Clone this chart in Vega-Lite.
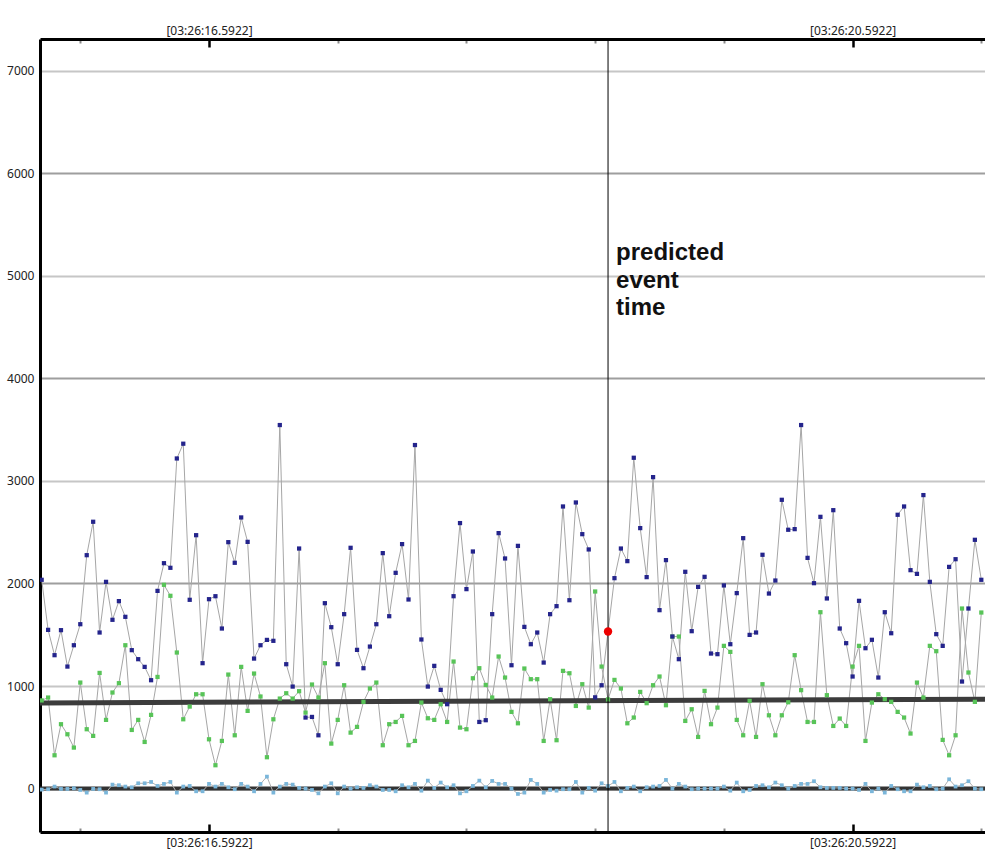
{
  "$schema": "https://vega.github.io/schema/vega-lite/v6.json",
  "width": 945,
  "height": 793,
  "autosize": "none",
  "padding": {"left": 40, "top": 39, "right": 0, "bottom": 32},
  "background": "white",
  "config": {"view": {"stroke": null}},
  "datasets": {
    "series": [
      {"t":15.5522,"hi":2036,"lo":860,"z":-10},
      {"t":15.5922,"hi":1548,"lo":888,"z":-6},
      {"t":15.6322,"hi":1301,"lo":325,"z":20},
      {"t":15.6722,"hi":1545,"lo":628,"z":-3},
      {"t":15.7122,"hi":1190,"lo":530,"z":-3},
      {"t":15.7522,"hi":1398,"lo":400,"z":3},
      {"t":15.7922,"hi":1603,"lo":1034,"z":-13},
      {"t":15.8322,"hi":2276,"lo":579,"z":-39},
      {"t":15.8722,"hi":2602,"lo":514,"z":-3},
      {"t":15.9122,"hi":1522,"lo":1128,"z":-6},
      {"t":15.9522,"hi":2016,"lo":670,"z":-39},
      {"t":15.9922,"hi":1646,"lo":937,"z":39},
      {"t":16.0322,"hi":1828,"lo":1028,"z":33},
      {"t":16.0722,"hi":1675,"lo":1398,"z":20},
      {"t":16.1122,"hi":1350,"lo":572,"z":13},
      {"t":16.1522,"hi":1262,"lo":670,"z":52},
      {"t":16.1922,"hi":1187,"lo":455,"z":52},
      {"t":16.2322,"hi":1057,"lo":719,"z":65},
      {"t":16.2722,"hi":1928,"lo":1089,"z":26},
      {"t":16.3122,"hi":2198,"lo":1987,"z":46},
      {"t":16.3522,"hi":2153,"lo":1880,"z":65},
      {"t":16.3922,"hi":3219,"lo":1327,"z":-39},
      {"t":16.4322,"hi":3363,"lo":676,"z":20},
      {"t":16.4722,"hi":1841,"lo":800,"z":26},
      {"t":16.5122,"hi":2471,"lo":920,"z":-26},
      {"t":16.5522,"hi":1223,"lo":920,"z":-26},
      {"t":16.5922,"hi":1847,"lo":481,"z":46},
      {"t":16.6322,"hi":1876,"lo":228,"z":20},
      {"t":16.6722,"hi":1561,"lo":465,"z":46},
      {"t":16.7122,"hi":2403,"lo":1112,"z":13},
      {"t":16.7522,"hi":2202,"lo":520,"z":-6},
      {"t":16.7922,"hi":2644,"lo":1187,"z":46},
      {"t":16.8322,"hi":2406,"lo":758,"z":20},
      {"t":16.8722,"hi":1268,"lo":1122,"z":-26},
      {"t":16.9122,"hi":1398,"lo":898,"z":46},
      {"t":16.9522,"hi":1450,"lo":306,"z":117},
      {"t":16.9922,"hi":1441,"lo":676,"z":-39},
      {"t":17.0322,"hi":3545,"lo":878,"z":20},
      {"t":17.0722,"hi":1213,"lo":930,"z":46},
      {"t":17.1122,"hi":995,"lo":878,"z":39},
      {"t":17.1522,"hi":2341,"lo":950,"z":7},
      {"t":17.1922,"hi":693,"lo":741,"z":0},
      {"t":17.2322,"hi":699,"lo":1015,"z":-13},
      {"t":17.2722,"hi":520,"lo":888,"z":-46},
      {"t":17.3122,"hi":1808,"lo":1223,"z":20},
      {"t":17.3522,"hi":1574,"lo":439,"z":52},
      {"t":17.3922,"hi":1213,"lo":670,"z":-46},
      {"t":17.4322,"hi":1701,"lo":1008,"z":20},
      {"t":17.4722,"hi":2348,"lo":546,"z":0},
      {"t":17.5122,"hi":1353,"lo":602,"z":13},
      {"t":17.5522,"hi":1174,"lo":846,"z":7},
      {"t":17.5922,"hi":1385,"lo":976,"z":33},
      {"t":17.6322,"hi":1603,"lo":1034,"z":20},
      {"t":17.6722,"hi":2296,"lo":423,"z":-13},
      {"t":17.7122,"hi":1681,"lo":628,"z":-13},
      {"t":17.7522,"hi":2104,"lo":650,"z":-26},
      {"t":17.7922,"hi":2384,"lo":709,"z":33},
      {"t":17.8322,"hi":1844,"lo":423,"z":13},
      {"t":17.8722,"hi":3350,"lo":465,"z":46},
      {"t":17.9122,"hi":1454,"lo":839,"z":-20},
      {"t":17.9522,"hi":995,"lo":686,"z":78},
      {"t":17.9922,"hi":1197,"lo":670,"z":7},
      {"t":18.0322,"hi":963,"lo":823,"z":59},
      {"t":18.0722,"hi":823,"lo":650,"z":13},
      {"t":18.1122,"hi":1876,"lo":1239,"z":33},
      {"t":18.1522,"hi":2589,"lo":595,"z":-46},
      {"t":18.1922,"hi":1945,"lo":579,"z":-26},
      {"t":18.2322,"hi":2312,"lo":1076,"z":26},
      {"t":18.2722,"hi":650,"lo":1174,"z":78},
      {"t":18.3122,"hi":667,"lo":1011,"z":13},
      {"t":18.3522,"hi":1701,"lo":888,"z":75},
      {"t":18.3922,"hi":2491,"lo":1288,"z":46},
      {"t":18.4322,"hi":2244,"lo":1083,"z":46},
      {"t":18.4722,"hi":1203,"lo":748,"z":0},
      {"t":18.5122,"hi":2367,"lo":637,"z":-52},
      {"t":18.5522,"hi":1577,"lo":1171,"z":-39},
      {"t":18.5922,"hi":1408,"lo":1067,"z":85},
      {"t":18.6322,"hi":1522,"lo":1067,"z":46},
      {"t":18.6722,"hi":1229,"lo":465,"z":-39},
      {"t":18.7122,"hi":1701,"lo":872,"z":-13},
      {"t":18.7522,"hi":1779,"lo":472,"z":-20},
      {"t":18.7922,"hi":2751,"lo":1148,"z":-6},
      {"t":18.8322,"hi":1837,"lo":1125,"z":-6},
      {"t":18.8722,"hi":2790,"lo":806,"z":65},
      {"t":18.9122,"hi":2481,"lo":1018,"z":-39},
      {"t":18.9522,"hi":2332,"lo":790,"z":7},
      {"t":18.9922,"hi":890,"lo":1922,"z":-20},
      {"t":19.0322,"hi":1008,"lo":1190,"z":52},
      {"t":19.0722,"hi":1532,"lo":870,"z":26},
      {"t":19.1122,"hi":2052,"lo":1060,"z":65},
      {"t":19.1522,"hi":2341,"lo":976,"z":-26},
      {"t":19.1922,"hi":2218,"lo":637,"z":7},
      {"t":19.2322,"hi":3226,"lo":693,"z":20},
      {"t":19.2722,"hi":2540,"lo":943,"z":-26},
      {"t":19.3122,"hi":2062,"lo":833,"z":13},
      {"t":19.3522,"hi":3037,"lo":1008,"z":20},
      {"t":19.3922,"hi":1740,"lo":1093,"z":26},
      {"t":19.4322,"hi":2228,"lo":813,"z":85},
      {"t":19.4722,"hi":1483,"lo":1483,"z":0},
      {"t":19.5122,"hi":1262,"lo":1483,"z":46},
      {"t":19.5522,"hi":2114,"lo":660,"z":20},
      {"t":19.5922,"hi":1535,"lo":774,"z":-6},
      {"t":19.6322,"hi":1967,"lo":504,"z":0},
      {"t":19.6722,"hi":2065,"lo":953,"z":0},
      {"t":19.7122,"hi":1317,"lo":628,"z":0},
      {"t":19.7522,"hi":1311,"lo":790,"z":0},
      {"t":19.7922,"hi":1981,"lo":1392,"z":20},
      {"t":19.8322,"hi":1408,"lo":1333,"z":-20},
      {"t":19.8722,"hi":1906,"lo":670,"z":59},
      {"t":19.9122,"hi":2442,"lo":520,"z":-26},
      {"t":19.9522,"hi":1499,"lo":855,"z":-13},
      {"t":19.9922,"hi":1522,"lo":504,"z":26},
      {"t":20.0322,"hi":2280,"lo":1018,"z":33},
      {"t":20.0722,"hi":1902,"lo":715,"z":13},
      {"t":20.1122,"hi":2029,"lo":520,"z":59},
      {"t":20.1522,"hi":2816,"lo":715,"z":33},
      {"t":20.1922,"hi":2524,"lo":842,"z":0},
      {"t":20.2322,"hi":2530,"lo":1301,"z":26},
      {"t":20.2722,"hi":3545,"lo":960,"z":46},
      {"t":20.3122,"hi":2250,"lo":650,"z":46},
      {"t":20.3522,"hi":2003,"lo":650,"z":72},
      {"t":20.3922,"hi":2650,"lo":1720,"z":13},
      {"t":20.4322,"hi":1854,"lo":911,"z":7},
      {"t":20.4722,"hi":2715,"lo":611,"z":7},
      {"t":20.5122,"hi":1561,"lo":683,"z":7},
      {"t":20.5522,"hi":1418,"lo":611,"z":0},
      {"t":20.5922,"hi":1093,"lo":1190,"z":0},
      {"t":20.6322,"hi":1831,"lo":1392,"z":-13},
      {"t":20.6722,"hi":1369,"lo":465,"z":46},
      {"t":20.7122,"hi":1451,"lo":839,"z":-26},
      {"t":20.7522,"hi":1083,"lo":920,"z":0},
      {"t":20.7922,"hi":1720,"lo":872,"z":-39},
      {"t":20.8322,"hi":1515,"lo":846,"z":26},
      {"t":20.8722,"hi":2670,"lo":748,"z":-6},
      {"t":20.9122,"hi":2751,"lo":693,"z":-26},
      {"t":20.9522,"hi":2130,"lo":537,"z":-26},
      {"t":20.9922,"hi":2094,"lo":1034,"z":39},
      {"t":21.0322,"hi":2862,"lo":888,"z":13},
      {"t":21.0722,"hi":2016,"lo":1392,"z":26},
      {"t":21.1122,"hi":1506,"lo":1340,"z":-6},
      {"t":21.1522,"hi":1392,"lo":475,"z":0},
      {"t":21.1922,"hi":2162,"lo":325,"z":91},
      {"t":21.2322,"hi":2237,"lo":520,"z":20},
      {"t":21.2722,"hi":1044,"lo":1756,"z":33},
      {"t":21.3122,"hi":1756,"lo":1132,"z":72},
      {"t":21.3522,"hi":2426,"lo":846,"z":0},
      {"t":21.3922,"hi":2036,"lo":1717,"z":-6}
    ],
    "trend": [
      {"t":15.5418,"v":835},
      {"t":21.4151,"v":872}
    ],
    "zero": [{"v":0}],
    "event": [{"t":19.0722,"v":1532}],
    "note": [{"t":19.0722,"v":5153,"label":"predicted\nevent\ntime"}]
  },
  "resolve": {"axis": {"x": "independent", "y": "independent"}},
  "layer": [
    {
      "data": {"name": "zero"},
      "mark": {"type": "rule", "color": "#333333", "strokeWidth": 4},
      "encoding": {
        "y": {"field": "v", "type": "quantitative",
          "scale": {"domain": [-423, 7309], "nice": false, "zero": false},
          "axis": {"title": null, "orient": "left", "values": [0, 1000, 2000, 3000, 4000, 5000, 6000, 7000],
            "format": "d",
            "ticks": false, "grid": true, "gridWidth": 2,
            "gridColor": {"expr": "datum.value % 2000 == 0 ? '#9e9e9e' : '#c6c6c6'"},
            "domain": true, "domainColor": "#000000", "domainWidth": 3,
            "labelFont": "Noto Sans", "labelFontSize": 12, "labelColor": "#222222", "labelPadding": 6}}
      }
    },
    {
      "data": {"name": "series"},
      "mark": {"type": "line", "color": "#a6a6a6", "strokeWidth": 1, "clip": true},
      "encoding": {
        "x": {"field": "t", "type": "quantitative",
          "scale": {"domain": [15.5418, 21.4151], "nice": false, "zero": false},
          "axis": {"orient": "bottom", "title": null, "grid": false,
            "values": [15.7922, 16.5922, 17.3922, 18.1922, 18.9922, 19.7922, 20.5922, 21.3922],
            "labelExpr": "(abs(datum.value-16.5922)<0.01 || abs(datum.value-20.5922)<0.01) ? '[03:26:' + format(datum.value, '.4f') + ']' : ''",
            "domainColor": "#000000", "domainWidth": 3,
            "tickColor": {"condition": {"test": "abs(datum.value-16.5922)<0.01 || abs(datum.value-20.5922)<0.01", "value": "#000000"}, "value": "#8a8a8a"},
            "tickWidth": {"condition": {"test": "abs(datum.value-16.5922)<0.01 || abs(datum.value-20.5922)<0.01", "value": 2.5}, "value": 2},
            "tickSize": {"condition": {"test": "abs(datum.value-16.5922)<0.01 || abs(datum.value-20.5922)<0.01", "value": -8}, "value": -4},
            "labelFont": "Noto Sans", "labelFontSize": 12, "labelColor": "#222222", "labelPadding": 13, "labelFlush": false}},
        "y": {"field": "hi", "type": "quantitative", "axis": null}
      }
    },
    {
      "data": {"name": "series"},
      "mark": {"type": "line", "color": "#a6a6a6", "strokeWidth": 1, "clip": true},
      "encoding": {
        "x": {"field": "t", "type": "quantitative",
          "axis": {"orient": "top", "title": null, "grid": false,
            "values": [15.7922, 16.5922, 17.3922, 18.1922, 18.9922, 19.7922, 20.5922, 21.3922],
            "labelExpr": "(abs(datum.value-16.5922)<0.01 || abs(datum.value-20.5922)<0.01) ? '[03:26:' + format(datum.value, '.4f') + ']' : ''",
            "domainColor": "#000000", "domainWidth": 3,
            "tickColor": {"condition": {"test": "abs(datum.value-16.5922)<0.01 || abs(datum.value-20.5922)<0.01", "value": "#000000"}, "value": "#8a8a8a"},
            "tickWidth": {"condition": {"test": "abs(datum.value-16.5922)<0.01 || abs(datum.value-20.5922)<0.01", "value": 2.5}, "value": 2},
            "tickSize": {"condition": {"test": "abs(datum.value-16.5922)<0.01 || abs(datum.value-20.5922)<0.01", "value": -8}, "value": -4},
            "labelFont": "Noto Sans", "labelFontSize": 12, "labelColor": "#222222", "labelPadding": 10, "labelFlush": false}},
        "y": {"field": "lo", "type": "quantitative", "axis": null}
      }
    },
    {
      "data": {"name": "series"},
      "mark": {"type": "line", "color": "#b0b0b0", "strokeWidth": 1, "clip": true},
      "encoding": {
        "x": {"field": "t", "type": "quantitative", "axis": null},
        "y": {"field": "z", "type": "quantitative", "axis": null}
      }
    },
    {
      "data": {"name": "trend"},
      "mark": {"type": "line", "color": "#3c3c3c", "strokeWidth": 5, "clip": true},
      "encoding": {
        "x": {"field": "t", "type": "quantitative", "axis": null},
        "y": {"field": "v", "type": "quantitative", "axis": null}
      }
    },
    {
      "data": {"name": "series"},
      "mark": {"type": "point", "shape": "square", "filled": true, "color": "#7ab6da", "size": 14, "opacity": 1, "clip": true},
      "encoding": {
        "x": {"field": "t", "type": "quantitative", "axis": null},
        "y": {"field": "z", "type": "quantitative", "axis": null}
      }
    },
    {
      "data": {"name": "series"},
      "mark": {"type": "point", "shape": "square", "filled": true, "color": "#58c458", "size": 18, "opacity": 1, "clip": true},
      "encoding": {
        "x": {"field": "t", "type": "quantitative", "axis": null},
        "y": {"field": "lo", "type": "quantitative", "axis": null}
      }
    },
    {
      "data": {"name": "series"},
      "mark": {"type": "point", "shape": "square", "filled": true, "color": "#24248c", "size": 18, "opacity": 1, "clip": true},
      "encoding": {
        "x": {"field": "t", "type": "quantitative", "axis": null},
        "y": {"field": "hi", "type": "quantitative", "axis": null}
      }
    },
    {
      "data": {"name": "event"},
      "mark": {"type": "rule", "color": "#000000", "strokeWidth": 1},
      "encoding": {
        "x": {"field": "t", "type": "quantitative", "axis": null}
      }
    },
    {
      "data": {"name": "event"},
      "mark": {"type": "point", "shape": "circle", "filled": true, "color": "#ee0000", "size": 70, "opacity": 1},
      "encoding": {
        "x": {"field": "t", "type": "quantitative", "axis": null},
        "y": {"field": "v", "type": "quantitative", "axis": null}
      }
    },
    {
      "data": {"name": "note"},
      "mark": {"type": "text", "align": "left", "baseline": "alphabetic", "dx": 8, "font": "Liberation Sans", "fontWeight": "bold", "fontSize": 24, "lineHeight": 27.5, "lineBreak": "\n", "color": "#111111"},
      "encoding": {
        "x": {"field": "t", "type": "quantitative", "axis": null},
        "y": {"field": "v", "type": "quantitative", "axis": null},
        "text": {"field": "label"}
      }
    }
  ]
}
